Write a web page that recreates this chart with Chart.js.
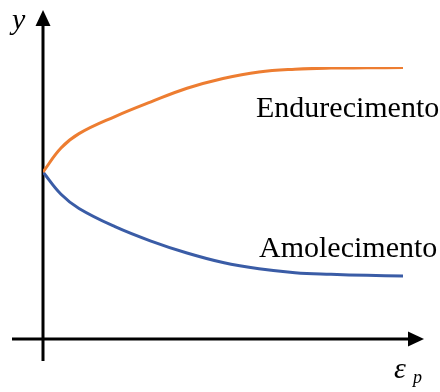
<!DOCTYPE html>
<html>
<head>
<meta charset="utf-8">
<script src="https://cdn.jsdelivr.net/npm/chart.js@4.4.1/dist/chart.umd.min.js"></script>
<style>
    html, body { margin: 0; padding: 0; background: #ffffff; }
    #courbe { display: block; }
</style>
</head>
<body>
<canvas id="courbe" width="440" height="392"></canvas>
<script>
// valeurs (unités arbitraires, axes 0..10)
const deformation = [0, 0.5, 1, 2, 3, 4, 5, 6, 7, 8, 9, 10];
const endurecimento = [6.14, 7.02, 7.55, 8.18, 8.72, 9.22, 9.58, 9.82, 9.92, 9.96, 9.97, 9.98];
const amolecimento = [6.14, 5.32, 4.80, 4.13, 3.60, 3.16, 2.81, 2.58, 2.44, 2.38, 2.34, 2.32];
const labels = ['Endurecimento', 'Amolecimento'];

function toPoints(ys) {
    return deformation.map((x, i) => ({ x: x, y: ys[i] }));
}

// axes avec flèches et textes
const axesPlugin = {
    id: 'axesFleches',
    beforeDatasetsDraw(chart) {
        const ctx = chart.ctx;
        const x0 = chart.scales.x.getPixelForValue(0);
        const y0 = chart.scales.y.getPixelForValue(0);
        ctx.save();
        ctx.strokeStyle = '#000';
        ctx.fillStyle = '#000';
        ctx.lineWidth = 3;

        // axe vertical
        ctx.beginPath();
        ctx.moveTo(x0, y0 + 22);
        ctx.lineTo(x0, 24);
        ctx.stroke();
        ctx.beginPath();
        ctx.moveTo(x0, 10);
        ctx.lineTo(x0 - 7.5, 26);
        ctx.lineTo(x0 + 7.5, 26);
        ctx.closePath();
        ctx.fill();

        // axe horizontal
        ctx.beginPath();
        ctx.moveTo(x0 - 31, y0);
        ctx.lineTo(410, y0);
        ctx.stroke();
        ctx.beginPath();
        ctx.moveTo(424, y0);
        ctx.lineTo(408, y0 - 7.5);
        ctx.lineTo(408, y0 + 7.5);
        ctx.closePath();
        ctx.fill();
        ctx.restore();
    },
    afterDraw(chart) {
        const ctx = chart.ctx;
        ctx.save();
        ctx.fillStyle = '#000';
        ctx.textBaseline = 'alphabetic';
        ctx.textAlign = 'left';
        ctx.font = '30px "Liberation Serif", "Times New Roman", serif';
        ctx.fillText(labels[0], 256, 117);
        ctx.fillText(labels[1], 259, 257);

        ctx.font = 'italic 30px "Liberation Serif", "Times New Roman", serif';
        ctx.fillText('y', 12, 29);
        ctx.fillText('ε', 394, 378);
        ctx.font = 'italic 18px "Liberation Serif", "Times New Roman", serif';
        ctx.fillText('p', 413, 383);
        ctx.restore();
    }
};

new Chart(document.getElementById('courbe').getContext('2d'), {
    type: 'line',
    data: {
        datasets: [{
            label: labels[0],
            data: toPoints(endurecimento),
            borderColor: '#ED7D31',
            borderWidth: 3,
            pointRadius: 0,
            tension: 0.4,
            fill: false,
        }, {
            label: labels[1],
            data: toPoints(amolecimento),
            borderColor: '#3A5CA6',
            borderWidth: 3,
            pointRadius: 0,
            tension: 0.4,
            fill: false,
        }],
    },
    options: {
        responsive: false,
        animation: false,
        devicePixelRatio: 1,
        layout: {
            padding: { left: 43, right: 37, top: 67, bottom: 53 },
        },
        plugins: {
            legend: { display: false },
            tooltip: { enabled: false },
        },
        scales: {
            x: { type: 'linear', min: 0, max: 10, display: false },
            y: { type: 'linear', min: 0, max: 10, display: false },
        },
    },
    plugins: [axesPlugin],
});
</script>
</body>
</html>
